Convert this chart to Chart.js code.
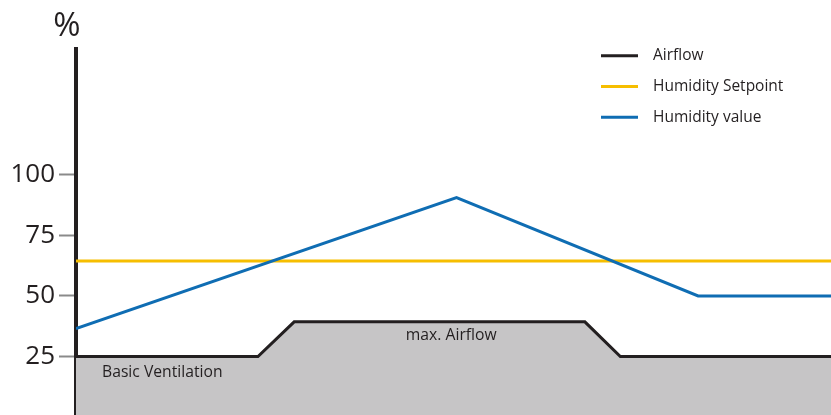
<!DOCTYPE html>
<html>
<head>
<meta charset="utf-8">
<script src="https://cdn.jsdelivr.net/npm/chart.js@4.4.1/dist/chart.umd.min.js"></script>
<style>
  html, body { margin: 0; padding: 0; background: #fff; overflow: hidden; }
  #wrap { position: relative; width: 831px; height: 417px; }
</style>
</head>
<body>
<div id="wrap"><canvas id="chart"></canvas></div>
<script>
// time positions (0..100 across the plot) and values in %
const airflowX = [0, 24.1, 28.9, 67.4, 72.1, 100];
const airflowY = [25, 25, 39.3, 39.3, 25, 25];

const setpointX = [0, 100];
const setpointY = [64.4, 64.4];

const humidityX = [0, 50.4, 82.4, 100];
const humidityY = [36.5, 90.6, 50, 50];

const yTicks = [25, 50, 75, 100];

const legendItems = [
  { label: "Airflow", color: "#231f20" },
  { label: "Humidity Setpoint", color: "#f6be00" },
  { label: "Humidity value", color: "#0f6db3" },
];

const annotations = [
  { text: "Basic Ventilation", x: 3.45, y: 18.3, align: "left" },
  { text: "max. Airflow", x: 49.7, y: 33.8, align: "center" },
];

const TEXT = "#231f20";

function toPoints(xs, ys) {
  return xs.map((x, i) => ({ x, y: ys[i] }));
}

// draws the % unit, the inline labels and the legend box
const extras = {
  id: "extras",
  afterDatasetsDraw(chart) {
    const { ctx, scales } = chart;
    ctx.save();
    ctx.fillStyle = TEXT;
    ctx.textBaseline = "middle";

    ctx.font = "15.7px 'Open Sans'";
    annotations.forEach((a) => {
      ctx.textAlign = a.align;
      ctx.fillText(a.text, scales.x.getPixelForValue(a.x), scales.y.getPixelForValue(a.y));
    });

    ctx.font = "33px 'Open Sans'";
    ctx.textAlign = "center";
    ctx.textBaseline = "alphabetic";
    ctx.fillText("%", 67, 36);

    ctx.font = "15.5px 'Open Sans'";
    ctx.textAlign = "left";
    ctx.textBaseline = "middle";
    legendItems.forEach((it, i) => {
      const y = 55.7 + i * 30.8;
      ctx.strokeStyle = it.color;
      ctx.lineWidth = 3;
      ctx.beginPath();
      ctx.moveTo(601, y);
      ctx.lineTo(638, y);
      ctx.stroke();
      ctx.fillStyle = TEXT;
      ctx.fillText(it.label, 653, y);
    });
    ctx.restore();
  },
};

new Chart(document.getElementById("chart"), {
  type: "line",
  data: {
    datasets: [
      {
        label: "Humidity value",
        data: toPoints(humidityX, humidityY),
        borderColor: "#0f6db3",
        borderWidth: 3,
        pointRadius: 0,
        tension: 0,
        fill: false,
        order: 1,
      },
      {
        label: "Humidity Setpoint",
        data: toPoints(setpointX, setpointY),
        borderColor: "#f6be00",
        borderWidth: 3,
        pointRadius: 0,
        fill: false,
        order: 2,
      },
      {
        label: "Airflow",
        data: toPoints(airflowX, airflowY),
        borderColor: "#231f20",
        backgroundColor: "#c6c5c6",
        borderWidth: 3,
        pointRadius: 0,
        fill: "origin",
        order: 3,
      },
    ],
  },
  options: {
    responsive: true,
    maintainAspectRatio: false,
    animation: false,
    layout: { padding: { top: 49, right: 0, bottom: 0, left: 0 } },
    plugins: { legend: { display: false }, tooltip: { enabled: false } },
    scales: {
      x: { type: "linear", min: 0, max: 100, display: false },
      y: {
        min: 0,
        max: 152,
        afterBuildTicks: (s) => { s.ticks = yTicks.map((v) => ({ value: v })); },
        afterFit: (s) => {
          s.width = 76;
          s.paddingTop = 0;
          s.paddingBottom = 0;
        },
        border: { display: true, color: "#231f20", width: 4 },
        grid: {
          drawOnChartArea: false,
          drawTicks: true,
          tickLength: 17,
          tickWidth: 2,
          tickColor: "#8a8a8a",
        },
        ticks: {
          color: TEXT,
          padding: 4,
          font: { family: "'Open Sans'", size: 26 },
        },
      },
    },
  },
  plugins: [extras],
});
</script>
</body>
</html>
